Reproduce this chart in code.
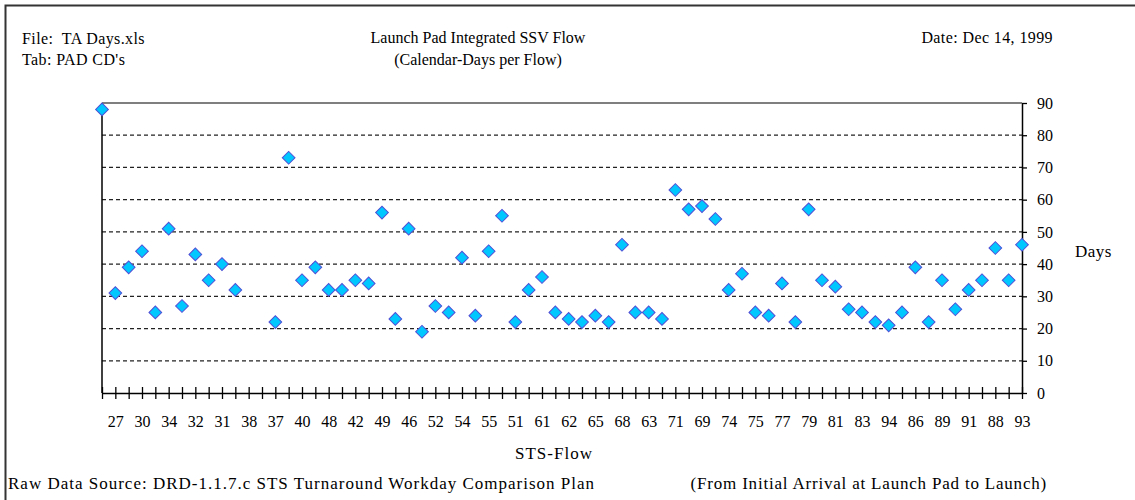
<!DOCTYPE html>
<html>
<head>
<meta charset="utf-8">
<script src="https://cdn.jsdelivr.net/npm/d3@7"></script>
<style>
  body { margin: 0; background: #fff; }
  text { font-family: "Liberation Serif", "Times New Roman", serif; fill: #000; }
</style>
</head>
<body>
<div id="chart"></div>
<script>
// STS flows in launch order (labels shown for every other one)
let flows = ["26", "27", "29", "30", "28", "34", "33", "32", "36", "31",
  "41", "38", "35", "37", "39", "40", "43", "48", "44", "42",
  "45", "49", "50", "46", "47", "52", "53", "54", "56", "55",
  "57", "51", "58", "61", "60", "62", "59", "65", "64", "68",
  "66", "63", "67", "71", "70", "69", "73", "74", "72", "75",
  "76", "77", "78", "79", "80", "81", "82", "83", "84", "94",
  "85", "86", "87", "89", "90", "91", "95", "88", "96", "93"];

// calendar days per flow (null = no point drawn)
let days = [88, 31, 39, 44, 25, 51, 27, 43, 35, 40,
  32, null, null, 22, 73, 35, 39, 32, 32, 35,
  34, 56, 23, 51, 19, 27, 25, 42, 24, 44,
  55, 22, 32, 36, 25, 23, 22, 24, 22, 46,
  25, 25, 23, 63, 57, 58, 54, 32, 37, 25,
  24, 34, 22, 57, 35, 33, 26, 25, 22, 21,
  25, 39, 22, 35, 26, 32, 35, 45, 35, 46];

let yTicks = [0, 10, 20, 30, 40, 50, 60, 70, 80, 90];
let gridValues = [10, 20, 30, 40, 50, 60, 70, 80];

let svgWidth = 1135;
let svgHeight = 500;

let margin = {
  top: 103,
  right: 113,
  bottom: 107,
  left: 102
};

let width = svgWidth - margin.left - margin.right;
let height = svgHeight - margin.top - margin.bottom;

let svg = d3
  .select("#chart")
  .append("svg")
  .attr("width", svgWidth)
  .attr("height", svgHeight);

// outer frame (top and left edges)
svg
  .append("path")
  .attr("d", `M5.5,${svgHeight} V5.5 H${svgWidth}`)
  .attr("fill", "none")
  .attr("stroke", "#333")
  .attr("stroke-width", 2);

// header texts
svg
  .append("text")
  .attr("x", 22)
  .attr("y", 44)
  .attr("font-size", 16)
  .attr("letter-spacing", 0.4)
  .style("white-space", "pre")
  .text("File:  TA Days.xls");

svg
  .append("text")
  .attr("x", 22)
  .attr("y", 65)
  .attr("font-size", 16)
  .attr("letter-spacing", 0.4)
  .text("Tab: PAD CD's");

svg
  .append("text")
  .attr("x", 478)
  .attr("y", 43)
  .attr("font-size", 16)
  .attr("text-anchor", "middle")
  .text("Launch Pad Integrated SSV Flow");

svg
  .append("text")
  .attr("x", 478)
  .attr("y", 65)
  .attr("font-size", 16)
  .attr("text-anchor", "middle")
  .text("(Calendar-Days per Flow)");

svg
  .append("text")
  .attr("x", 1053)
  .attr("y", 43)
  .attr("font-size", 16)
  .attr("letter-spacing", 0.4)
  .attr("text-anchor", "end")
  .text("Date: Dec 14, 1999");

let chartGroup = svg
  .append("g")
  .attr("transform", `translate(${margin.left}, ${margin.top})`);

// scales
let xScale = d3
  .scalePoint()
  .domain(flows)
  .range([0, width]);

let yScale = d3
  .scaleLinear()
  .domain([0, 90])
  .range([height, 0]);

// dashed gridlines
chartGroup
  .selectAll("line.grid")
  .data(gridValues)
  .enter()
  .append("line")
  .classed("grid", true)
  .attr("x1", 0)
  .attr("x2", width)
  .attr("y1", d => yScale(d))
  .attr("y2", d => yScale(d))
  .attr("stroke", "#222")
  .attr("stroke-width", 1.2)
  .attr("stroke-dasharray", "4,3");

// plot area top border
chartGroup
  .append("line")
  .attr("x1", 0)
  .attr("x2", width)
  .attr("y1", 0)
  .attr("y2", 0)
  .attr("stroke", "#555")
  .attr("stroke-width", 1.5);

// left border
chartGroup
  .append("line")
  .attr("x1", 0)
  .attr("x2", 0)
  .attr("y1", 0)
  .attr("y2", height)
  .attr("stroke", "#000")
  .attr("stroke-width", 1.5);

// x axis, ticks crossing the line, label on every other flow
let bottomAxis = d3
  .axisBottom(xScale)
  .tickSizeInner(6)
  .tickSizeOuter(0)
  .tickFormat((d, i) => (i % 2 === 1 ? d : ""));

let xAxis = chartGroup
  .append("g")
  .attr("transform", `translate(0, ${height})`)
  .call(bottomAxis);

xAxis.select(".domain").attr("stroke", "#000").attr("stroke-width", 1.5);
xAxis
  .selectAll(".tick line")
  .attr("y1", -6)
  .attr("stroke", "#000")
  .attr("stroke-width", 1.3);
xAxis
  .selectAll(".tick text")
  .attr("y", 23)
  .attr("font-size", 16)
  .attr("font-family", null);

// y axis on the right
let rightAxis = d3
  .axisRight(yScale)
  .tickValues(yTicks)
  .tickSizeInner(5)
  .tickSizeOuter(0)
  .tickPadding(10);

let yAxis = chartGroup
  .append("g")
  .attr("transform", `translate(${width}, 0)`)
  .call(rightAxis);

yAxis.select(".domain").attr("stroke", "#000").attr("stroke-width", 1.5);
yAxis.selectAll(".tick line").attr("stroke", "#000").attr("stroke-width", 1.3);
yAxis
  .selectAll(".tick text")
  .attr("font-size", 16)
  .attr("font-family", null);

// axis titles
svg
  .append("text")
  .attr("x", 1075)
  .attr("y", 257)
  .attr("font-size", 17)
  .attr("letter-spacing", 0.5)
  .text("Days");

svg
  .append("text")
  .attr("x", margin.left + width / 2 - 8)
  .attr("y", 459)
  .attr("font-size", 17)
  .attr("letter-spacing", 1)
  .attr("text-anchor", "middle")
  .text("STS-Flow");

// footer notes
svg
  .append("text")
  .attr("x", 8)
  .attr("y", 489)
  .attr("font-size", 17)
  .attr("letter-spacing", 1)
  .text("Raw Data Source: DRD-1.1.7.c STS Turnaround Workday Comparison Plan");

svg
  .append("text")
  .attr("x", 1047)
  .attr("y", 489)
  .attr("font-size", 17)
  .attr("letter-spacing", 0.8)
  .attr("text-anchor", "end")
  .text("(From Initial Arrival at Launch Pad to Launch)");

// diamond markers
let points = flows
  .map((f, i) => ({ flow: f, days: days[i] }))
  .filter(d => d.days !== null);

let diamond = d3.symbol().type(d3.symbolSquare).size(81);

chartGroup
  .selectAll("path.point")
  .data(points)
  .enter()
  .append("path")
  .classed("point", true)
  .attr("d", diamond)
  .attr("transform", d => `translate(${xScale(d.flow)}, ${yScale(d.days)}) rotate(45)`)
  .attr("fill", "#00c8ff")
  .attr("stroke", "#4f4fd6")
  .attr("stroke-width", 1);
</script>
</body>
</html>
